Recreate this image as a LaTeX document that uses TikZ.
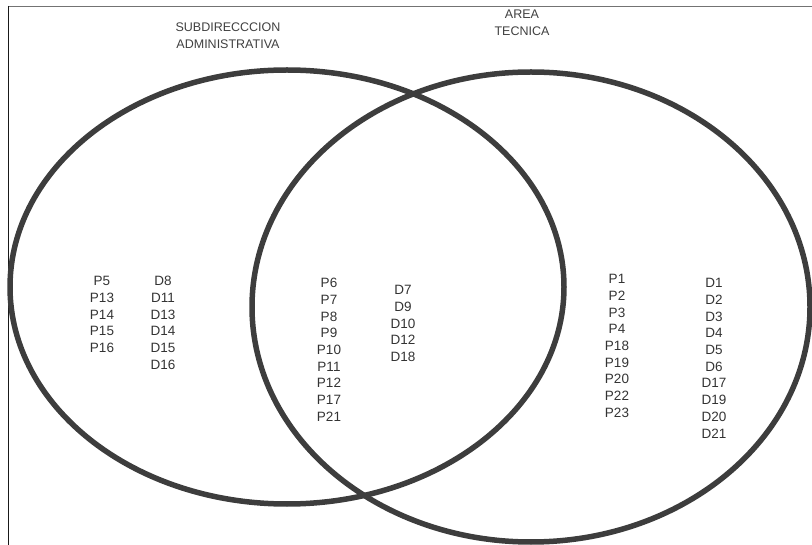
\documentclass[tikz,border=0pt]{standalone}
\usepackage{fontspec}
\setmainfont{Liberation Sans}
\begin{document}
\begin{tikzpicture}[x=1pt, y=-1pt, line join = round, line cap = round,
		item/.style = {inner sep=0pt, font=\fontsize{13.5}{15}\selectfont, text=black!80},
		title/.style = {inner sep=0pt, align=center, font=\fontsize{12.5}{17}\selectfont, text=black!75}]
				\useasboundingbox (0,0) rectangle (812,545);
				\def\d{16.7}
				\draw[black!55, line width=1.8pt, line cap=butt] (8,6.5) -- (812,6.5);
				\draw[black!90, line width=1pt, line cap=butt] (8,6) -- (8,545);
				\draw[black!76, line width=5.5pt] (287,287) ellipse (277 and 217);
				\draw[black!76, line width=5.5pt] (531,307) ellipse (279 and 235);
				\node[title] (sub) at (228,36) {SUBDIRECCCION\\ADMINISTRATIVA};
				\node[title] (area) at (522,23) {AREA\\TECNICA};
				\foreach \t [count=\i] in {P5,P13,P14,P15,P16}{
					\node[item] (\t) at (102,281+\d*\i-\d) {\t};
				}
				\foreach \t [count=\i] in {D8,D11,D13,D14,D15,D16}{
					\node[item] (\t) at (163,281+\d*\i-\d) {\t};
				}
				\foreach \t [count=\i] in {P6,P7,P8,P9,P10,P11,P12,P17,P21}{
					\node[item] (\t) at (329,283+\d*\i-\d) {\t};
				}
				\foreach \t [count=\i] in {D7,D9,D10,D12,D18}{
					\node[item] (\t) at (403,290+\d*\i-\d) {\t};
				}
				\foreach \t [count=\i] in {P1,P2,P3,P4,P18,P19,P20,P22,P23}{
					\node[item] (\t) at (617,279+\d*\i-\d) {\t};
				}
				\foreach \t [count=\i] in {D1,D2,D3,D4,D5,D6,D17,D19,D20,D21}{
					\node[item] (\t) at (714,283+\d*\i-\d) {\t};
				}
			\end{tikzpicture}
\end{document}
